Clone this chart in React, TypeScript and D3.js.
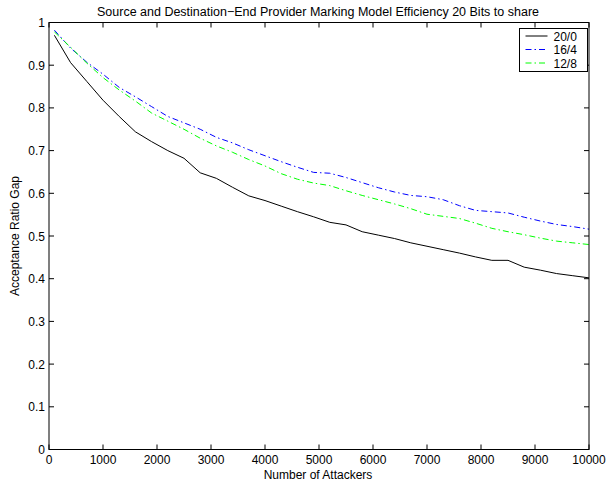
import { FC } from "react";
import * as d3 from "d3";

const WIDTH = 607;
const HEIGHT = 480;
const M = { left: 49, right: 589, top: 22.5, bottom: 449.5 };

const attackers = d3.range(100, 10001, 300);

const series2010 = [
  0.97, 0.906, 0.862, 0.818, 0.78, 0.744, 0.721, 0.7, 0.682, 0.648, 0.635, 0.614,
  0.594, 0.583, 0.57, 0.557, 0.545, 0.532, 0.526, 0.51, 0.502, 0.494, 0.484, 0.476,
  0.468, 0.46, 0.451, 0.443, 0.443, 0.427, 0.42, 0.412, 0.407, 0.402,
];
const series164 = [
  0.982, 0.94, 0.907, 0.879, 0.848, 0.826, 0.803, 0.78, 0.765, 0.75, 0.731, 0.718,
  0.702, 0.688, 0.674, 0.661, 0.649, 0.647, 0.637, 0.625, 0.613, 0.603, 0.595, 0.592,
  0.585, 0.571, 0.56, 0.557, 0.554, 0.544, 0.535, 0.527, 0.522, 0.516,
];
const series128 = [
  0.978, 0.942, 0.905, 0.871, 0.842, 0.816, 0.788, 0.769, 0.75, 0.729, 0.711, 0.696,
  0.679, 0.664, 0.646, 0.633, 0.624, 0.618, 0.606, 0.595, 0.585, 0.575, 0.564, 0.551,
  0.546, 0.541, 0.53, 0.518, 0.51, 0.503, 0.495, 0.488, 0.484, 0.48,
];

const seriesNames = ["20/0", "16/4", "12/8"];
const seriesColors = ["#000000", "#0000ff", "#00ff00"];
const seriesDash = ["none", "6,3,1.5,3", "6,3,1.5,3"];
const allSeries = [series2010, series164, series128];

const xTicks = d3.range(0, 10001, 1000);
const yTicks = d3.range(0, 11).map((i) => i / 10);

const FONT = "Liberation Sans, Arial, Helvetica, sans-serif";
const FS = 12;

const App: FC = () => {
  const x = d3.scaleLinear().domain([0, 10000]).range([M.left, M.right]);
  const y = d3.scaleLinear().domain([0, 1]).range([M.bottom, M.top]);
  const line = d3
    .line<number>()
    .x((_, i) => x(attackers[i]))
    .y((d) => y(d));

  const tick = 5;
  const legX = 519.5;
  const legY = 28.5;

  return (
    <svg
      width={WIDTH}
      height={HEIGHT}
      style={{ position: "absolute", left: 0, top: 0, background: "#fff" }}
      fontFamily={FONT}
    >
      <rect x={0} y={0} width={WIDTH} height={HEIGHT} fill="#fff" />
      <text x={318} y={16} fontSize={12.5} textAnchor="middle">
        Source and Destination−End Provider Marking Model Efficiency 20 Bits to share
      </text>

      {allSeries.map((s, k) => (
        <path
          key={k}
          d={line(s) ?? ""}
          fill="none"
          stroke={seriesColors[k]}
          strokeWidth={1}
          strokeDasharray={seriesDash[k]}
        />
      ))}

      <rect
        x={M.left}
        y={M.top}
        width={M.right - M.left}
        height={M.bottom - M.top}
        fill="none"
        stroke="#000"
        strokeWidth={1}
      />
      {xTicks.map((t) => (
        <g key={t}>
          <line x1={x(t)} x2={x(t)} y1={M.bottom} y2={M.bottom - tick} stroke="#000" />
          <line x1={x(t)} x2={x(t)} y1={M.top} y2={M.top + tick} stroke="#000" />
          <text x={x(t)} y={M.bottom + 14.5} fontSize={FS} textAnchor="middle">
            {t}
          </text>
        </g>
      ))}
      {yTicks.map((t) => (
        <g key={t}>
          <line x1={M.left} x2={M.left + tick} y1={y(t)} y2={y(t)} stroke="#000" />
          <line x1={M.right} x2={M.right - tick} y1={y(t)} y2={y(t)} stroke="#000" />
          <text x={M.left - 4} y={y(t) + 4.5} fontSize={FS} textAnchor="end">
            {d3.format("~g")(t)}
          </text>
        </g>
      ))}

      <text x={318} y={478.5} fontSize={FS} textAnchor="middle">
        Number of Attackers
      </text>
      <text
        transform={`translate(19,${(M.top + M.bottom) / 2}) rotate(-90)`}
        fontSize={FS}
        textAnchor="middle"
      >
        Acceptance Ratio Gap
      </text>

      <rect x={legX} y={legY} width={68} height={43} fill="#fff" stroke="#000" />
      {seriesNames.map((n, k) => (
        <g key={n} transform={`translate(0,${legY + 7.5 + k * 13.5})`}>
          <line
            x1={legX + 6}
            x2={legX + 28}
            y1={0}
            y2={0}
            stroke={seriesColors[k]}
            strokeDasharray={seriesDash[k]}
          />
          <text x={legX + 34} y={4.5} fontSize={FS}>
            {n}
          </text>
        </g>
      ))}
    </svg>
  );
};

export default App;
